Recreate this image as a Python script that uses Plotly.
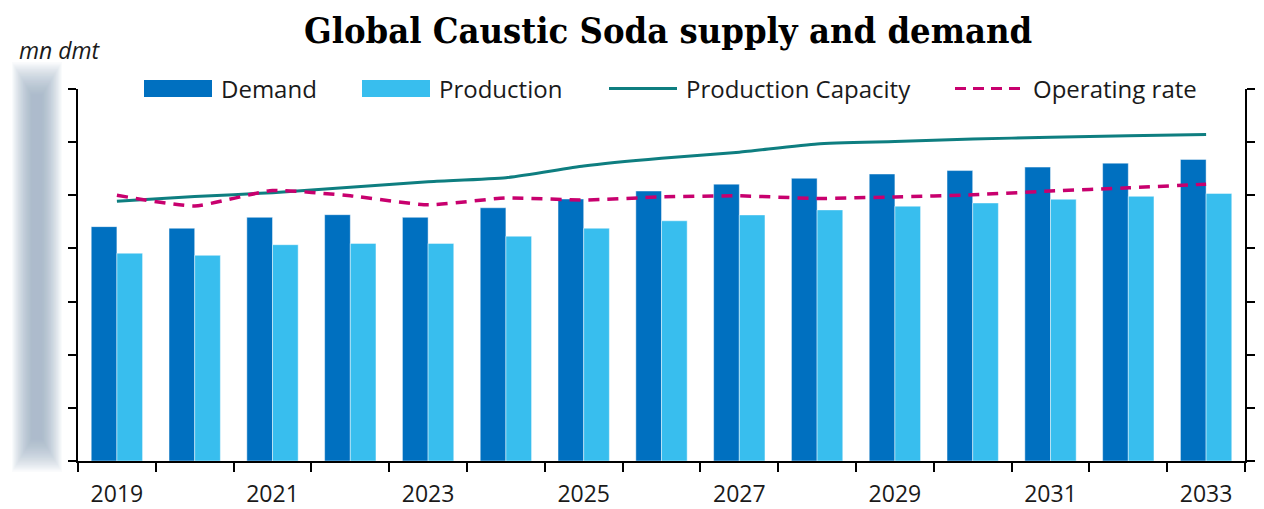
import plotly.graph_objects as go

# ---------------- data ----------------
years = list(range(2019, 2034))
demand = [88.2, 87.6, 91.7, 92.7, 91.7, 95.3, 98.6, 101.6, 104.2, 106.4, 108.0, 109.3, 110.6, 112.1, 113.5]
production = [78.2, 77.4, 81.4, 81.9, 81.9, 84.6, 87.6, 90.4, 92.6, 94.5, 95.9, 97.1, 98.5, 99.6, 100.7]
capacity = [97.8, 99.5, 101.0, 103.0, 105.1, 106.6, 111.0, 113.9, 116.2, 119.3, 120.2, 121.2, 121.8, 122.4, 122.9]
operating_rate = [80.0, 78.0, 80.9, 79.9, 78.2, 79.5, 79.1, 79.7, 79.9, 79.4, 79.7, 80.1, 80.8, 81.4, 82.1]
label_years = [2019, 2021, 2023, 2025, 2027, 2029, 2031, 2033]

title_text = "Global Caustic Soda supply and demand"
unit_text = "mn dmt"
legend_names = ["Demand", "Production", "Production Capacity", "Operating rate"]

# ---------------- style ----------------
C_DEMAND = "#0070C0"
C_PROD = "#38BEEE"
C_CAP = "#0E7E80"
C_OPR = "#C8006E"
FONT = "Open Sans"
TXT = "#1a1a1a"

OFF = 8  # page body margin in the browser
W, H = 1264 - OFF, 509 - OFF
PL, PR, PT, PB = 78 - OFF, 1245 - OFF, 89 - OFF, 461 - OFF  # plot area in figure px


def px_x(px):
    # px given in screenshot coordinates
    return (px - OFF - PL) / (PR - PL)


def px_y(py):
    return (PB - (py - OFF)) / (PB - PT)


fig = go.Figure()
fig.add_trace(go.Bar(x=years, y=demand, name=legend_names[0], marker_color=C_DEMAND,
                     marker_line=dict(color="rgba(255,255,255,0.45)", width=1), showlegend=False))
fig.add_trace(go.Bar(x=years, y=production, name=legend_names[1], marker_color=C_PROD,
                     marker_line=dict(color="rgba(255,255,255,0.45)", width=1), showlegend=False))
fig.add_trace(go.Scatter(x=years, y=capacity, name=legend_names[2], mode="lines",
                         line=dict(color=C_CAP, width=3, shape="spline", smoothing=0.5), showlegend=False))
fig.add_trace(go.Scatter(x=years, y=operating_rate, name=legend_names[3], mode="lines", yaxis="y2",
                         line=dict(color=C_OPR, width=3.5, dash="11px,8px", shape="spline", smoothing=0.5),
                         showlegend=False))

shapes = []
# blurred (hidden) axis-label band on the left: soft gradient from stacked translucent rects
cx, cy = 37.0, 267.0
for i in range(24):
    hw = 25 - i * 0.85
    hh = 205 - i * 1.4
    shapes.append(dict(type="rect", xref="paper", yref="paper", layer="below",
                       x0=px_x(cx - hw), x1=px_x(cx + hw),
                       y0=px_y(cy + hh), y1=px_y(cy - hh),
                       fillcolor="rgba(148,154,178,0.042)", line=dict(width=0)))

# manual legend
leg_y = 88.5
sw = [(144, 212), (362, 430), (609, 677), (955, 1023)]
txt_x = [219, 437, 684, 1031]
shapes.append(dict(type="rect", xref="paper", yref="paper", x0=px_x(sw[0][0]), x1=px_x(sw[0][1]),
                   y0=px_y(leg_y + 8.5), y1=px_y(leg_y - 8.5), fillcolor=C_DEMAND, line=dict(width=0)))
shapes.append(dict(type="rect", xref="paper", yref="paper", x0=px_x(sw[1][0]), x1=px_x(sw[1][1]),
                   y0=px_y(leg_y + 8.5), y1=px_y(leg_y - 8.5), fillcolor=C_PROD, line=dict(width=0)))
shapes.append(dict(type="line", xref="paper", yref="paper", x0=px_x(sw[2][0]), x1=px_x(sw[2][1]),
                   y0=px_y(leg_y), y1=px_y(leg_y), line=dict(color=C_CAP, width=3)))
shapes.append(dict(type="line", xref="paper", yref="paper", x0=px_x(sw[3][0]), x1=px_x(sw[3][1]),
                   y0=px_y(leg_y), y1=px_y(leg_y), line=dict(color=C_OPR, width=3, dash="11px,7px")))

annotations = []
for name, tx in zip(legend_names, txt_x):
    annotations.append(dict(text=name, xref="paper", yref="paper", x=px_x(tx), y=px_y(leg_y),
                            xanchor="left", yanchor="middle", showarrow=False,
                            font=dict(family=FONT, size=24, color=TXT)))
annotations.append(dict(text="<b>" + title_text + "</b>", xref="paper", yref="paper",
                        x=px_x(668), y=px_y(30), xanchor="center", yanchor="middle", showarrow=False,
                        font=dict(family="DejaVu Serif Condensed", size=36, color="#000000")))
annotations.append(dict(text="<i>" + unit_text + "</i>", xref="paper", yref="paper",
                        x=px_x(17), y=px_y(50), xanchor="left", yanchor="middle", showarrow=False,
                        font=dict(family=FONT, size=23, color=TXT)))

axis_common = dict(showgrid=False, zeroline=False, showline=True, linecolor="black", linewidth=2,
                   ticks="outside", ticklen=8, tickwidth=2, tickcolor="black", showticklabels=False,
                   automargin=False)

fig.update_layout(
    width=W, height=H,
    margin=dict(l=PL, r=W - PR, t=PT, b=H - PB, pad=0, autoexpand=False),
    paper_bgcolor="white", plot_bgcolor="white",
    barmode="group", bargap=0.34, bargroupgap=0,
    font=dict(family=FONT, color=TXT),
    showlegend=False,
    shapes=shapes, annotations=annotations,
    xaxis=dict(range=[2018.5, 2033.5], tickmode="array", tickvals=label_years,
               ticktext=[str(y) for y in label_years], ticks="outside", ticklen=0,
               tickfont=dict(family=FONT, size=23, color=TXT), ticklabelstandoff=11,
               showgrid=False, zeroline=False, showline=True, linecolor="black", linewidth=2,
               automargin=False,
               minor=dict(ticks="outside", ticklen=9, tickwidth=2, tickcolor="black",
                          tick0=2018.5, dtick=1, showgrid=False)),
    yaxis=dict(range=[0, 140], dtick=20, **axis_common),
    yaxis2=dict(range=[30, 100], dtick=10, overlaying="y", side="right", **axis_common),
)

fig.write_html("out.html")
